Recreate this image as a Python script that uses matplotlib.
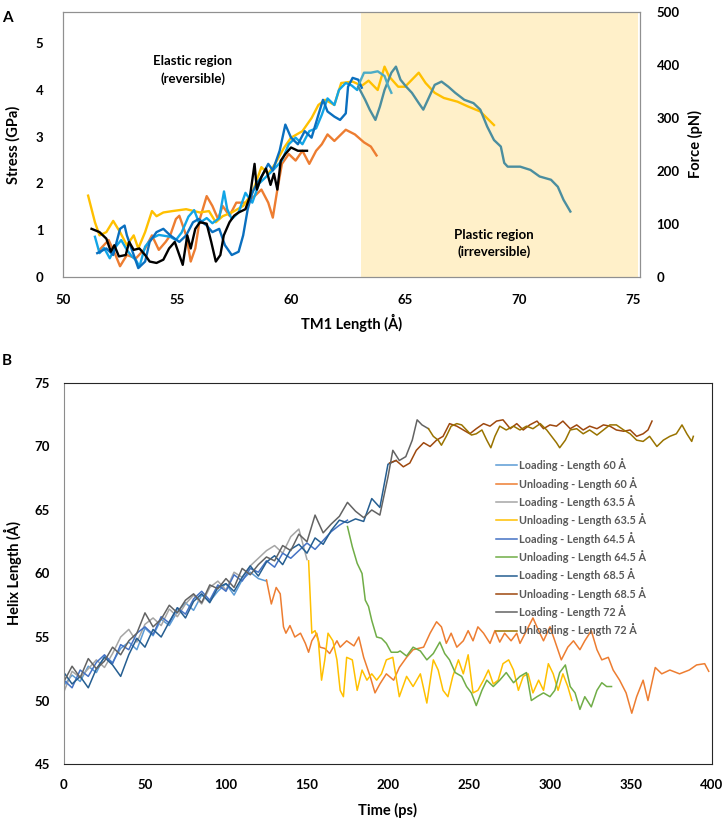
import matplotlib
matplotlib.use("Agg")
import matplotlib.pyplot as plt

plt.rcParams['font.family'] = ['Lato', 'DejaVu Sans']
plt.rcParams['font.weight'] = 'bold'

# ---- panel A: stress / force vs TM1 length ----
yellow_x = [51.1, 51.4, 51.6, 51.9, 52.2, 52.5, 52.8, 53.1, 53.3, 53.6, 53.9, 54.1, 54.4, 54.8, 55.4,
            56.0, 56.4, 56.7, 57.0, 57.4, 57.9, 58.3, 58.7, 59.0, 59.3, 59.7, 60.0, 60.5, 60.9, 61.2,
            61.5, 61.9, 62.2, 62.7, 63.1, 63.4, 63.8, 64.1, 64.3, 64.7, 65.0, 65.6, 65.9, 66.3, 66.7,
            67.3, 67.75, 68.3, 68.9]
yellow_y = [1.74, 1.17, 0.89, 0.96, 1.20, 0.96, 0.68, 0.89, 0.61, 0.96, 1.41, 1.30, 1.38, 1.41, 1.45,
            1.38, 1.41, 1.17, 1.30, 1.38, 1.52, 1.80, 2.35, 2.21, 2.42, 2.77, 2.98, 3.12, 3.40, 3.68,
            3.79, 3.68, 4.15, 4.18, 4.09, 4.20, 4.00, 4.50, 4.29, 4.07, 4.07, 4.37, 4.15, 3.94, 3.83,
            3.75, 3.65, 3.54, 3.25]

orange_x = [51.6, 52.0, 52.3, 52.5, 52.8, 53.2, 53.6, 53.9, 54.2, 54.5, 54.7, 54.95, 55.1, 55.4, 55.6,
            55.8, 56.0, 56.3, 56.55, 56.8, 57.0, 57.3, 57.6, 58.0, 58.4, 58.7, 59.0, 59.2, 59.4, 59.6,
            59.9, 60.2, 60.5, 60.8, 61.1, 61.35, 61.6, 61.9, 62.4, 62.8, 63.2, 63.5, 63.75]
orange_y = [0.58, 0.79, 0.47, 0.23, 0.47, 0.40, 0.61, 0.89, 0.58, 0.75, 0.89, 1.24, 1.31, 0.89, 0.33,
            0.61, 1.24, 1.73, 1.52, 1.24, 1.52, 1.31, 1.59, 1.59, 1.73, 1.87, 1.59, 1.27, 1.87, 2.42,
            2.63, 2.49, 2.70, 2.42, 2.70, 2.84, 3.05, 2.91, 3.15, 3.05, 2.88, 2.79, 2.60]

sky_x = [51.4, 51.6, 51.8, 52.05, 52.3, 52.55, 52.8, 53.0, 53.2, 53.35, 53.6, 53.9, 54.2, 54.7, 54.95,
         55.2, 55.5, 55.75, 55.97, 56.3, 56.55, 56.85, 57.06, 57.2, 57.4, 57.7, 58.0, 58.3, 58.6, 58.9,
         59.2, 59.6, 59.9, 60.2, 60.5, 60.8, 61.1, 61.35, 61.6, 61.9, 62.1, 62.4, 62.65, 62.9, 63.0]
sky_y = [0.86, 0.51, 0.62, 0.40, 0.64, 0.79, 0.58, 0.45, 0.36, 0.22, 0.65, 0.83, 0.90, 0.86, 0.79,
         0.95, 1.29, 1.43, 1.15, 1.26, 1.15, 1.26, 1.83, 1.45, 1.24, 1.38, 1.80, 1.59, 2.00, 2.14,
         2.28, 2.49, 2.84, 2.98, 2.84, 3.12, 3.18, 3.47, 3.82, 3.68, 4.00, 4.15, 4.10, 4.00, 4.15]

blue_x = [51.5, 51.9, 52.2, 52.5, 52.7, 52.8, 53.1, 53.3, 53.6, 53.8, 54.1, 54.4, 54.7, 55.1, 55.4,
          55.7, 55.95, 56.3, 56.55, 56.85, 57.1, 57.4, 57.7, 57.9, 58.1, 58.3, 58.5, 58.7, 59.0, 59.2,
          59.5, 59.75, 60.0, 60.3, 60.6, 60.9, 61.2, 61.4, 61.6, 61.9, 62.15, 62.4, 62.5, 62.7, 62.95, 63.1]
blue_y = [0.51, 0.61, 0.47, 1.03, 1.10, 0.89, 0.47, 0.19, 0.33, 0.75, 0.96, 1.03, 0.89, 0.75, 0.89,
          1.17, 1.24, 1.10, 0.96, 1.03, 0.68, 0.47, 0.54, 0.89, 1.45, 1.80, 2.00, 2.14, 2.42, 2.28,
          2.70, 3.26, 2.98, 2.84, 3.12, 2.98, 3.47, 3.79, 3.54, 3.43, 3.36, 3.50, 4.07, 4.26, 4.22, 4.05]

black_x = [51.25, 51.6, 51.9, 52.1, 52.25, 52.45, 52.75, 52.9, 53.1, 53.35, 53.6, 53.8, 54.1, 54.4, 54.65,
           54.9, 55.1, 55.25, 55.45, 55.6, 55.8, 56.0, 56.3, 56.5, 56.7, 56.9, 57.05, 57.3, 57.5, 57.7,
           58.0, 58.2, 58.4, 58.5, 58.7, 58.9, 59.1, 59.25, 59.4, 59.55, 59.75, 60.0, 60.3, 60.7]
black_y = [1.03, 0.96, 0.82, 0.54, 0.68, 0.44, 0.47, 0.75, 0.58, 0.61, 0.47, 0.33, 0.30, 0.37, 0.61,
           0.75, 0.47, 0.26, 0.89, 0.61, 1.03, 1.17, 1.14, 0.75, 0.33, 0.47, 0.89, 1.17, 1.31, 1.38,
           1.45, 1.73, 2.42, 1.87, 2.14, 2.32, 1.97, 2.21, 1.87, 2.49, 2.63, 2.77, 2.70, 2.70]

teal_x = [62.95, 63.25, 63.45, 63.7, 63.9, 64.1, 64.4, 64.6, 64.8, 65.05, 65.3, 65.6, 65.8, 66.0, 66.3,
          66.6, 66.9, 67.2, 67.6, 68.0, 68.3, 68.6, 68.9, 69.2, 69.35, 69.5, 70.05, 70.5, 70.9, 71.4,
          71.7, 71.95, 72.25]
teal_y = [4.07, 3.79, 3.58, 3.36, 3.65, 4.00, 4.37, 4.50, 4.22, 4.07, 3.94, 3.72, 3.58, 3.79, 4.11,
          4.18, 4.07, 3.94, 3.79, 3.72, 3.58, 3.22, 2.93, 2.79, 2.44, 2.36, 2.36, 2.29, 2.15, 2.08,
          1.93, 1.65, 1.40]

lteal_x = [63.0, 63.2, 63.5, 63.8, 64.1, 64.25, 64.4]
lteal_y = [4.15, 4.37, 4.37, 4.40, 4.30, 4.10, 3.94]

plastic_start = 63.05

# ---- panel B: helix length vs time ----
t_load60 = [0, 5, 10, 15, 20, 25, 30, 35, 40, 45, 50, 55, 60, 65, 70, 75, 80, 85, 90, 95, 100, 105,
            110, 115, 120, 125]
L_load60 = [51.2, 52.0, 51.5, 52.7, 52.2, 53.5, 53.0, 54.1, 54.6, 54.0, 55.7, 55.1, 56.4, 55.9, 57.0,
            57.7, 57.1, 58.3, 57.8, 58.6, 59.2, 58.3, 59.5, 60.1, 59.6, 59.4]

t_unload60 = [125, 128, 131, 133.5, 135.5, 137, 139.5, 142.5, 146, 149, 151, 153, 156, 158, 161, 164,
              168.5, 170.5, 174.5, 179, 182, 185, 189, 192, 195, 199, 203.5, 207, 211.5, 215.5, 222,
              226, 230, 233, 236, 239, 242.5, 246.5, 249.5, 252.5, 255.5, 259, 263, 266, 269, 272,
              276, 279.5, 281.5, 285.5, 289.5, 293, 296, 300, 303, 307, 311, 314.5, 318.5, 321.5,
              325.5, 329, 332, 336, 339, 343, 347, 350.5, 353.5, 357.5, 360.5, 365, 369, 374, 380,
              386, 390.5, 395.5, 398]
L_unload60 = [59.5, 57.6, 58.9, 58.4, 55.8, 55.3, 55.9, 55.0, 55.3, 54.5, 53.8, 54.7, 55.3, 54.2, 54.1,
              53.7, 54.7, 54.2, 54.7, 54.3, 55.0, 53.4, 51.9, 50.6, 51.3, 52.1, 51.6, 52.6, 53.4, 54.0,
              54.2, 55.3, 56.2, 55.8, 54.5, 55.3, 54.2, 54.7, 55.5, 54.7, 55.8, 55.3, 54.5, 55.5, 54.6,
              55.3, 54.7, 55.3, 54.5, 55.5, 56.5, 55.5, 54.7, 55.8, 54.7, 53.2, 54.2, 54.7, 54.0, 54.7,
              55.5, 54.0, 53.2, 53.4, 52.4, 51.6, 50.6, 49.0, 50.3, 51.6, 50.0, 52.6, 52.1, 52.4, 52.1,
              52.4, 52.8, 52.9, 52.3]

t_load635 = [0, 5, 10, 15, 20, 25, 30, 35, 40, 45, 50, 55, 60, 65, 70, 75, 80, 85, 90, 95, 100, 105,
             110, 115, 120, 125, 130, 135, 140, 145, 150]
L_load635 = [50.7, 52.3, 51.8, 52.5, 53.2, 52.6, 53.7, 55.0, 55.6, 54.6, 56.0, 56.5, 55.9, 57.2, 56.6,
             57.6, 58.3, 57.6, 58.9, 59.4, 58.7, 60.1, 59.7, 60.6, 61.2, 61.8, 62.2, 61.6, 62.9, 63.5, 61.1]

t_unload635 = [151, 153, 155, 157, 159, 161, 163, 166, 168.5, 170.5, 172.5, 174.5, 178, 181, 184, 187,
               190, 193, 196, 199, 203, 207, 211.5, 215.5, 220, 224, 228, 231, 234, 237, 240, 243.5,
               246.5, 249.5, 252.5, 255.5, 259, 262, 265, 268, 271, 274.5, 277.5, 280.5, 283.5, 286.5,
               289.5, 293, 296, 299, 302, 305, 308, 311, 313.5]
L_unload635 = [61.0, 55.3, 55.5, 54.7, 51.6, 53.2, 55.3, 54.7, 53.2, 50.8, 50.3, 53.4, 53.2, 50.8, 52.4,
               51.6, 52.1, 51.6, 52.1, 53.2, 53.4, 50.3, 51.9, 51.1, 52.1, 49.8, 53.2, 52.4, 50.8, 50.3,
               51.9, 53.2, 52.1, 53.6, 50.6, 50.8, 51.6, 52.4, 51.3, 51.6, 52.9, 53.2, 52.4, 50.8, 51.9,
               52.1, 50.6, 51.6, 50.8, 52.9, 52.1, 50.8, 52.1, 51.1, 50.0]

t_load645 = [0, 5, 10, 15, 20, 25, 30, 35, 40, 45, 50, 55, 60, 65, 70, 75, 80, 85, 90, 95, 100, 105,
             110, 115, 120, 125, 130, 135, 140, 145, 150, 155, 160, 165, 170, 175]
L_load645 = [51.6, 51.0, 52.4, 51.9, 53.0, 53.6, 52.9, 54.4, 54.0, 55.3, 55.8, 55.2, 56.6, 56.1, 57.3,
             56.8, 58.0, 58.6, 57.9, 59.1, 58.6, 59.9, 59.4, 60.4, 60.1, 61.0, 60.5, 61.6, 61.2, 61.8,
             62.4, 61.9, 62.6, 63.3, 63.8, 64.2]

t_unload645 = [175, 178, 181, 184, 186, 188, 190, 193, 196, 199, 202, 206, 207.5, 211.5, 215.5, 220,
               224, 228, 232, 235, 238, 241.5, 245.5, 248.5, 251.5, 254.5, 258, 261, 265, 269, 273,
               277.5, 281.5, 285.5, 288.5, 292, 296, 300, 303, 306, 309.5, 312.5, 315.5, 318.5, 321.5,
               325.5, 329, 332, 335, 338]
L_unload645 = [63.7, 62.1, 60.8, 60.0, 57.9, 57.4, 56.3, 55.0, 54.9, 54.5, 53.8, 53.8, 53.9, 53.5, 54.2,
               53.9, 53.2, 53.7, 54.6, 53.7, 53.2, 52.2, 51.9, 51.1, 50.6, 49.6, 50.8, 51.6, 51.1, 51.6,
               52.2, 51.4, 51.9, 52.2, 50.0, 50.3, 50.6, 50.3, 50.8, 52.2, 52.8, 51.1, 50.6, 49.3, 50.3,
               49.5, 50.8, 51.4, 51.1, 51.1]

t_load685 = [0, 5, 10, 15, 20, 25, 30, 35, 40, 45, 50, 55, 60, 65, 70, 75, 80, 85, 90, 95, 100, 105,
             110, 115, 120, 125, 130, 135, 140, 145, 150, 155, 160, 165, 170, 175, 180, 185, 190, 195,
             200, 205]
L_load685 = [52.2, 51.3, 51.9, 51.0, 52.5, 53.4, 52.8, 51.9, 53.6, 54.9, 54.2, 55.6, 55.0, 56.2, 57.3,
             56.5, 57.8, 58.4, 57.7, 58.9, 59.2, 58.6, 59.7, 60.6, 59.8, 60.9, 61.4, 60.7, 61.9, 62.3,
             61.6, 62.8, 62.3, 63.4, 64.2, 64.0, 64.3, 64.1, 65.9, 65.2, 68.6, 68.9]

t_unload685 = [201, 205, 209.5, 213.5, 217.5, 222, 226, 230, 234, 238, 242.5, 246.5, 250.5, 254.5, 259,
               263, 267, 271, 275.5, 279.5, 283.5, 287.5, 292, 296, 300, 304, 308, 312.5, 316.5, 320.5,
               324.5, 329, 333, 337, 341, 345.5, 349.5, 353.5, 357.5, 360.5, 363]
L_unload685 = [68.7, 68.9, 68.4, 68.7, 69.7, 70.3, 70.0, 70.5, 70.8, 71.8, 71.6, 71.3, 71.0, 71.4, 71.8,
               71.6, 72.0, 72.1, 71.4, 71.8, 71.3, 71.7, 72.0, 71.4, 71.7, 71.6, 72.0, 71.4, 71.7, 71.3,
               71.6, 71.4, 71.7, 71.6, 71.3, 71.2, 71.3, 70.8, 71.0, 71.3, 72.0]

t_load72 = [0, 5, 10, 15, 20, 25, 30, 35, 40, 45, 50, 55, 60, 65, 70, 75, 80, 85, 90, 95, 100, 105,
            110, 115, 120, 125, 130, 135, 140, 145, 150, 155, 160, 165, 170, 175, 180, 185, 190, 195,
            200, 203, 207, 211, 215, 218, 221, 225]
L_load72 = [51.5, 52.7, 51.8, 53.3, 52.5, 53.1, 54.2, 53.6, 54.7, 55.3, 56.9, 55.8, 56.4, 57.5, 56.9,
            57.9, 58.4, 57.7, 59.1, 58.8, 59.6, 58.9, 60.4, 59.9, 60.7, 61.3, 61.0, 62.2, 61.8, 63.1,
            62.5, 64.6, 63.2, 63.9, 64.5, 65.6, 64.9, 64.4, 65.0, 64.6, 67.6, 69.7, 68.9, 69.2, 70.5,
            72.1, 71.7, 71.4]

t_unload72 = [225, 228, 231, 233, 236, 239, 242.5, 245.5, 248.5, 251.5, 254.5, 258, 261, 263.5, 266,
              269, 273, 277.5, 281.5, 285.5, 289.5, 294, 298, 301, 304, 306, 309.5, 312.5, 316.5, 320.5,
              324.5, 329, 333, 337, 341, 345.5, 349.5, 353.5, 357.5, 361.5, 366, 370, 374, 378, 381.5,
              384.5, 387.5, 388.5]
L_unload72 = [71.4, 70.8, 70.5, 70.1, 70.8, 71.6, 71.8, 71.7, 71.3, 70.9, 71.0, 71.3, 70.5, 69.9, 70.8,
              71.6, 71.3, 71.6, 71.3, 71.6, 71.4, 71.8, 71.3, 70.8, 70.3, 69.9, 70.5, 71.3, 71.4, 71.0,
              71.3, 70.9, 71.3, 71.7, 71.7, 71.3, 71.0, 70.5, 70.4, 70.8, 70.0, 70.5, 70.8, 71.0, 71.7,
              71.0, 70.4, 70.8]

series_b = [
    ("Loading - Length 60 Å", t_load60, L_load60, "#5B9BD5"),
    ("Unloading - Length 60 Å", t_unload60, L_unload60, "#ED7D31"),
    ("Loading - Length 63.5 Å", t_load635, L_load635, "#A5A5A5"),
    ("Unloading - Length 63.5 Å", t_unload635, L_unload635, "#FFC000"),
    ("Loading - Length 64.5 Å", t_load645, L_load645, "#4472C4"),
    ("Unloading - Length 64.5 Å", t_unload645, L_unload645, "#70AD47"),
    ("Loading - Length 68.5 Å", t_load685, L_load685, "#255E91"),
    ("Unloading - Length 68.5 Å", t_unload685, L_unload685, "#9E480E"),
    ("Loading - Length 72 Å", t_load72, L_load72, "#636363"),
    ("Unloading - Length 72 Å", t_unload72, L_unload72, "#997300"),
]

fig = plt.figure(figsize=(7.22, 8.18), dpi=100)

# ---------- A ----------
ax = fig.add_axes([0.0873, 0.6614, 0.799, 0.324])
ax.axvspan(plastic_start, 75.2, color="#FFF0C9", lw=0, zorder=0)
lw = 1.7
ax.plot(orange_x, orange_y, color="#ED7D31", lw=lw)
ax.plot(yellow_x, yellow_y, color="#FFC000", lw=lw)
ax.plot(sky_x, sky_y, color="#12A5E6", lw=lw)
ax.plot(blue_x, blue_y, color="#0A6FBF", lw=lw)
ax.plot(teal_x, teal_y, color="#4B8E9F", lw=lw)
ax.plot(lteal_x, lteal_y, color="#4BACC6", lw=lw)
ax.plot(black_x, black_y, color="black", lw=lw)
ax.set_xlim(50, 75.3)
ax.set_ylim(0, 5.67)
ax.set_xticks([50, 55, 60, 65, 70, 75])
ax.set_yticks([0, 1, 2, 3, 4, 5])
ax.tick_params(length=0, labelsize=9.5)
ax.tick_params(axis="x", pad=12)
ax.tick_params(axis="y", pad=14)
for s in ax.spines.values():
    s.set_color("#909090")
ax.set_xlabel("TM1 Length (Å)", fontsize=10.5, fontweight="bold", va="center")
ax.xaxis.set_label_coords(0.5, -0.175)
ax.set_ylabel("Stress (GPa)", fontsize=10.5, fontweight="bold", va="center")
ax.yaxis.set_label_coords(-0.087, 0.5)
ax.text(55.7, 4.43, "Elastic region\n(reversible)", ha="center", va="center",
        fontsize=9.5, fontweight="bold", linespacing=1.45)
ax.text(68.9, 0.72, "Plastic region\n(irreversible)", ha="center", va="center",
        fontsize=9.5, fontweight="bold", linespacing=1.45)

ax2 = ax.twinx()
ax2.set_ylim(0, 500)
ax2.set_yticks([0, 100, 200, 300, 400, 500])
ax2.tick_params(length=0, labelsize=9.5, pad=12)
for s in ax2.spines.values():
    s.set_color("#909090")
ax2.set_ylabel("Force (pN)", fontsize=10.5, fontweight="bold", va="center")
ax2.yaxis.set_label_coords(1.097, 0.5)

fig.text(0.003, 0.987, "A", fontsize=11, fontweight="bold", va="top")

# ---------- B ----------
bx = fig.add_axes([0.0886, 0.066, 0.8975, 0.4658])
for label, t, L, c in series_b:
    bx.plot(t, L, color=c, lw=1.1, label=label)
bx.set_xlim(0, 400)
bx.set_ylim(45, 75)
bx.set_xticks(range(0, 401, 50))
bx.set_yticks(range(45, 76, 5))
bx.tick_params(length=0, labelsize=9.5)
bx.tick_params(axis="x", pad=11)
bx.tick_params(axis="y", pad=10)
for s in bx.spines.values():
    s.set_color("#262626")
bx.spines["left"].set_color("#8C8C8C")
bx.set_xlabel("Time (ps)", fontsize=10.5, fontweight="bold", va="center")
bx.xaxis.set_label_coords(0.5, -0.122)
bx.set_ylabel("Helix Length (Å)", fontsize=10.5, fontweight="bold", va="center")
bx.yaxis.set_label_coords(-0.079, 0.5)
leg = bx.legend(loc="upper left", bbox_to_anchor=(0.66, 0.814), frameon=False,
                fontsize=7.8, handlelength=1.9, handletextpad=0.25, labelspacing=0.5,
                borderaxespad=0)
for txt in leg.get_texts():
    txt.set_color("#595959")
    txt.set_fontweight("bold")

fig.text(0.003, 0.567, "B", fontsize=11, fontweight="bold", va="top")

fig.savefig("out.png", dpi=100)
